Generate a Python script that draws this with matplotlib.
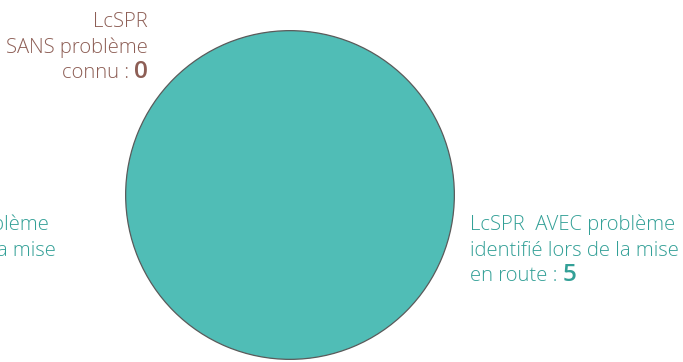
import matplotlib

matplotlib.use("Agg")
import matplotlib.pyplot as plt

categories = [
    "LcSPR\nSANS problème\nconnu",
    "LcSPR  AVEC problème\nidentifié lors de la mise\nen route",
    "LcSPR SANS problème\nidentifié lors de la mise\nen route",
]
values = [0, 5, 0]
slice_colors = ["#8d5e55", "#50bdb6", "#3a9f97"]
label_colors = ["#8d5e55", "#33a097", "#33a097"]

W, H = 683, 362
FONT = "Open Sans"
SIZE = 14.6

fig = plt.figure(figsize=(W / 100, H / 100), dpi=100)

# pie box, in pixels: centre (290, 195), radius 166
cx, cy, r = 290, 195, 166
ax = fig.add_axes([(cx - r) / W, (H - cy - r) / H, 2 * r / W, 2 * r / H])
wedges, _ = ax.pie(
    values,
    colors=slice_colors,
    startangle=90,
    counterclock=False,
    wedgeprops=dict(edgecolor="#5a5a5a", linewidth=0.9),
)
for w, v in zip(wedges, values):
    if v == 0:
        w.set_visible(False)
ax.set_xlim(-1.01, 1.01)
ax.set_ylim(-1.01, 1.01)
ax.axis("off")

renderer = fig.canvas.get_renderer()


def px(x, y):
    return x / W, 1 - y / H


def draw_label(text, value, x, y0, color, ha, step=25.7):
    lines = text.split("\n")
    for i, line in enumerate(lines):
        y = y0 + i * step
        last = i == len(lines) - 1
        if not last:
            fig.text(*px(x, y), line, ha=ha, va="baseline", color=color,
                     family=FONT, weight="light", fontsize=SIZE)
            continue
        head = line + " : "
        if ha == "right":
            num = fig.text(*px(x, y), f"{value}", ha="right", va="baseline", color=color,
                           family=FONT, weight="semibold", fontsize=SIZE * 1.2)
            x0 = num.get_window_extent(renderer).x0
            fig.text(x0 / W, 1 - y / H, head, ha="right", va="baseline", color=color,
                     family=FONT, weight="light", fontsize=SIZE)
        else:
            t = fig.text(*px(x, y), head, ha="left", va="baseline", color=color,
                         family=FONT, weight="light", fontsize=SIZE)
            x1 = t.get_window_extent(renderer).x1
            fig.text(x1 / W, 1 - y / H, f"{value}", ha="left", va="baseline", color=color,
                     family=FONT, weight="semibold", fontsize=SIZE * 1.2)


draw_label(categories[0], values[0], 148, 27, label_colors[0], "right")
draw_label(categories[1], values[1], 470, 230, label_colors[1], "left")
draw_label(categories[2], values[2], -153, 230, label_colors[2], "left")

fig.savefig("out.png", dpi=100)
